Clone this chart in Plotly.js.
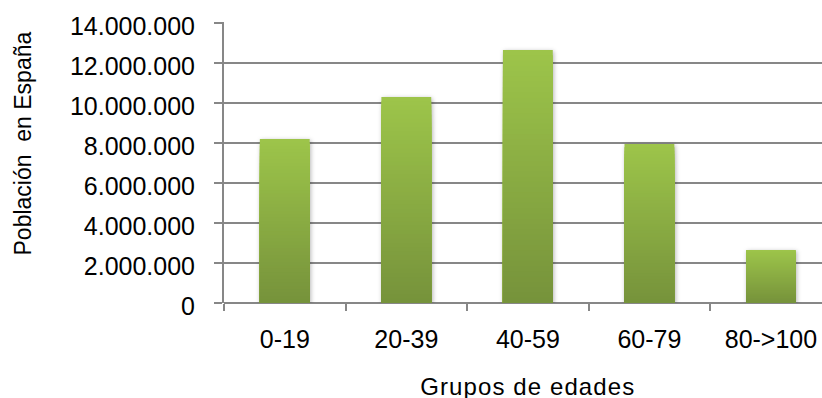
<!DOCTYPE html>
<html>
<head>
<meta charset="utf-8">
<script src="https://cdn.plot.ly/plotly-3.0.1.min.js"></script>
<style>
  html, body { margin: 0; padding: 0; background: #fff; }
  #chart { width: 822px; height: 398px; }
  /* soft shadow around the columns */
  .barlayer { filter: drop-shadow(1px 1px 2px rgba(0,0,0,0.28)); }
  /* the horizontal axis title is set slightly spaced out */
  g.annotation[data-index="0"] text { letter-spacing: 1.1px; }
</style>
</head>
<body>
<div id="chart"></div>
<script>
// Población de España por grupos de edades
const categories = ['0-19', '20-39', '40-59', '60-79', '80->100'];
const population = [8200000, 10300000, 12650000, 7950000, 2650000];
const yTicks = [0, 2000000, 4000000, 6000000, 8000000, 10000000, 12000000, 14000000];
const xTitle = 'Grupos de edades';
const yTitle = 'Población  en España';

// vertical gradient on each column: light green at the top, olive at the base
const topColor = [157, 197, 74];
const baseColor = [118, 146, 59];
const steps = 48;

function mix(t) {
  const c = topColor.map((v, i) => Math.round(baseColor[i] + (v - baseColor[i]) * t));
  return 'rgb(' + c.join(',') + ')';
}

// overlaid columns: the tallest carries the top colour, each shorter one
// covers the lower part with a darker shade
const traces = [];
for (let k = steps; k >= 1; k--) {
  const frac = k / steps;
  traces.push({
    type: 'bar',
    x: categories,
    y: population.map(v => v * frac),
    width: 0.41,
    marker: { color: mix((k - 0.5) / steps), line: { width: 0 } },
    hoverinfo: 'skip',
    showlegend: false
  });
}

const axisGrey = '#878787';
const family = 'Liberation Sans, Arial, sans-serif';
const tickFont = { family: family, size: 25, color: '#000' };

const layout = {
  width: 822,
  height: 398,
  margin: { l: 224, r: 0, t: 22, b: 95 },
  paper_bgcolor: '#fff',
  plot_bgcolor: '#fff',
  barmode: 'overlay',
  separators: ',.',
  font: tickFont,
  showlegend: false,
  xaxis: {
    type: 'category',
    range: [-0.5, 4.42],
    showgrid: false,
    zeroline: false,
    showline: false,
    ticks: 'outside',
    tickson: 'boundaries',
    ticklen: 7,
    tickwidth: 2,
    tickcolor: axisGrey,
    tickfont: tickFont,
    ticklabelstandoff: 19,
    fixedrange: true
  },
  yaxis: {
    range: [0, 14050000],
    tickvals: yTicks,
    tickformat: ',d',
    showgrid: true,
    gridcolor: axisGrey,
    gridwidth: 2,
    zeroline: true,
    zerolinecolor: axisGrey,
    zerolinewidth: 2,
    showline: true,
    linecolor: axisGrey,
    linewidth: 2,
    ticks: 'outside',
    ticklen: 8,
    tickwidth: 2,
    tickcolor: axisGrey,
    tickfont: tickFont,
    ticklabelstandoff: 14,
    ticklabelshift: 3,
    fixedrange: true
  },
  annotations: [
    {
      text: xTitle,
      xref: 'paper', yref: 'paper',
      x: 0.5067, y: -0.298,
      xanchor: 'center', yanchor: 'middle',
      showarrow: false,
      font: { family: family, size: 24, color: '#000' }
    },
    {
      text: yTitle,
      xref: 'paper', yref: 'paper',
      x: -0.3353, y: 0.5694,
      xanchor: 'center', yanchor: 'middle',
      textangle: -90,
      showarrow: false,
      font: { family: family, size: 23, color: '#000' }
    }
  ]
};

Plotly.newPlot('chart', traces, layout, { displayModeBar: false, staticPlot: true });
</script>
</body>
</html>
